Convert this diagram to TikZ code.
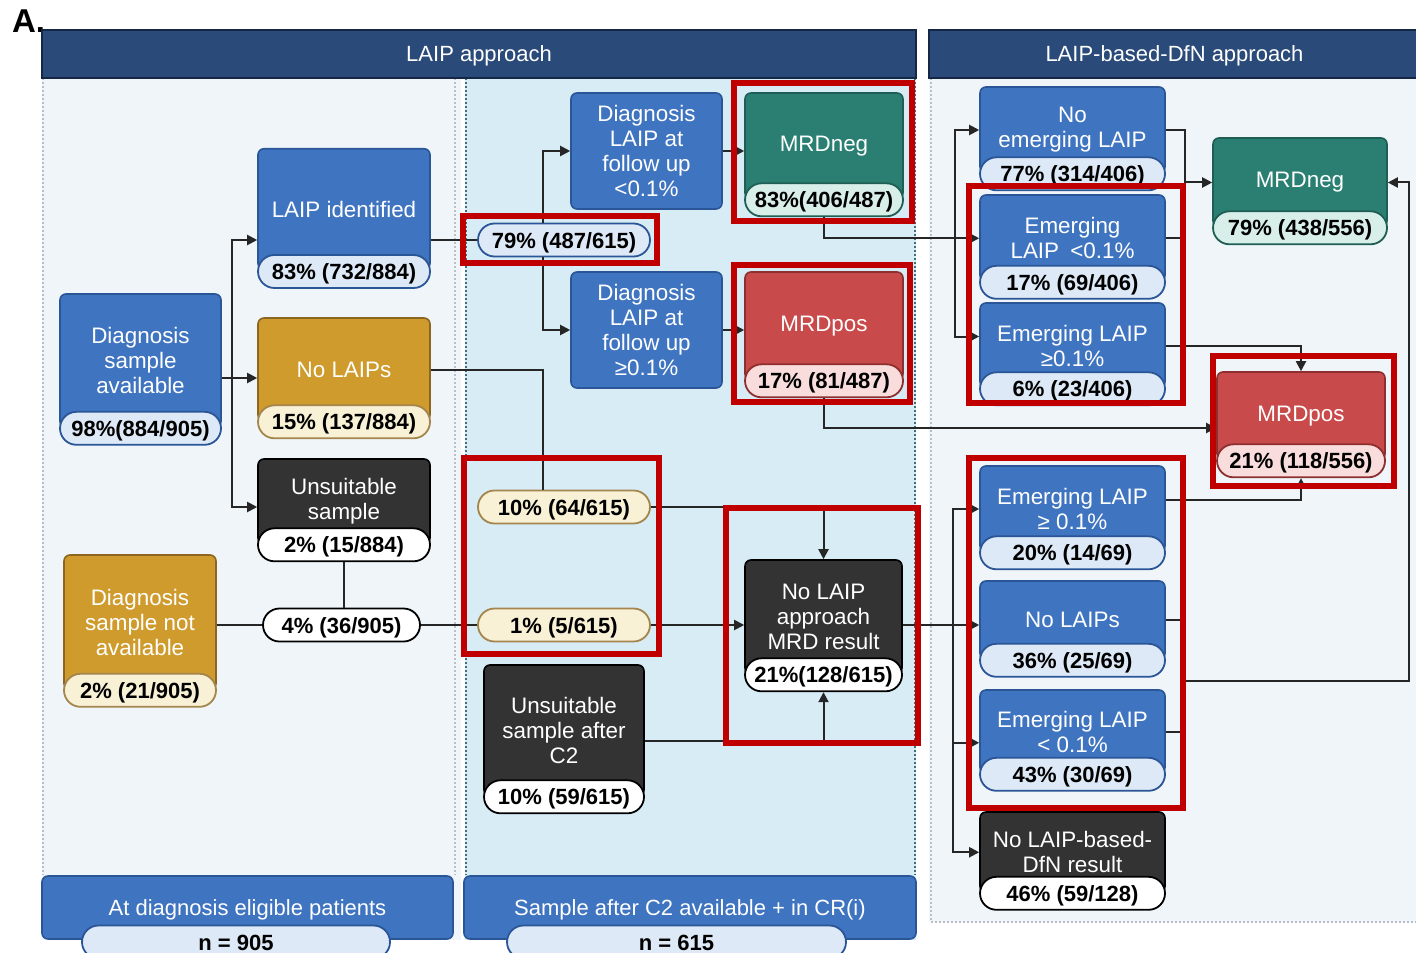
\documentclass[tikz,border=0pt]{standalone}
\usepackage{fontspec}
\setmainfont{Liberation Sans}
\usetikzlibrary{arrows.meta}
\definecolor{boxblue}{HTML}{3F74C0}
\definecolor{boxblueD}{HTML}{2A5597}
\definecolor{pillblue}{HTML}{DDE9F7}
\definecolor{boxgold}{HTML}{CF9B2D}
\definecolor{boxgoldD}{HTML}{8C6620}
\definecolor{pillgold}{HTML}{F8F1D5}
\definecolor{boxdark}{HTML}{333333}
\definecolor{boxteal}{HTML}{2A7F72}
\definecolor{boxtealD}{HTML}{1E5E54}
\definecolor{pillteal}{HTML}{D8EFE9}
\definecolor{boxred}{HTML}{C94A4A}
\definecolor{boxredD}{HTML}{8E2F2F}
\definecolor{pillred}{HTML}{F9DCDC}
\definecolor{headnavy}{HTML}{2A4A79}
\definecolor{headnavyD}{HTML}{142744}
\definecolor{panelL}{HTML}{F0F5FA}
\definecolor{panelM}{HTML}{D7ECF4}
\definecolor{hlred}{HTML}{C00000}
\definecolor{lineC}{HTML}{262626}
\definecolor{dotgray}{HTML}{B8BFC6}
\definecolor{dotteal}{HTML}{3F6F78}

\begin{document}
\begin{tikzpicture}[x=0.5pt, y=-0.5pt,
    box/.style={rectangle, rounded corners=3pt, line width=0.8pt, text=white, align=center, inner sep=0pt, font=\fontsize{11.2}{12.5}\selectfont},
    bluebox/.style={box, fill=boxblue, draw=boxblueD},
    goldbox/.style={box, fill=boxgold, draw=boxgoldD},
    darkbox/.style={box, fill=boxdark, draw=black},
    tealbox/.style={box, fill=boxteal, draw=boxtealD},
    redbox/.style={box, fill=boxred, draw=boxredD},
    pill/.style={rectangle, rounded corners=8.25pt, line width=0.9pt, minimum height=16.5pt, inner sep=0pt, text height=9pt, text depth=1pt, font=\fontsize{11}{13}\selectfont\bfseries},
    bluepill/.style={pill, fill=pillblue, draw=boxblueD},
    goldpill/.style={pill, fill=pillgold, draw=boxgoldD!80},
    whitepill/.style={pill, fill=white, draw=black},
    tealpill/.style={pill, fill=pillteal, draw=boxtealD},
    redpill/.style={pill, fill=pillred, draw=boxredD},
    head/.style={rectangle, fill=headnavy, draw=headnavyD, line width=1pt, text=white, minimum height=24pt, text height=8pt, text depth=0pt, font=\fontsize{11}{13}\selectfont},
    bar/.style={bluebox, minimum height=31.5pt, text height=8pt, text depth=0pt, font=\fontsize{11}{13}\selectfont},
    line/.style={draw=lineC, line width=1pt},
    arr/.style={line, -{Triangle[length=5pt,width=5pt]}},
    hl/.style={draw=hlred, line width=3pt},
    dotline/.style={line width=1pt, dash pattern=on 1pt off 1pt}]
    \useasboundingbox (0,0) rectangle (1416,952);
    \fill[white] (0,0) rectangle (1416,952);

    % Panels
    \fill[panelL] (42,78) rectangle (461,940);
    \fill[panelM] (465,78) rectangle (916,940);
    \fill[panelL] (929,78) rectangle (1416,922);
    \draw[dotline, dotgray] (43,78) -- (43,875);
    \draw[dotline, dotgray] (455,78) -- (455,875);
    \draw[dotline, dotteal] (466,78) -- (466,875);
    \draw[dotline, dotteal] (915,78) -- (915,875);
    \draw[dotline, dotgray] (931,78) -- (931,922) -- (1416,922);

    % Headers
    \node[font=\fontsize{16.5}{16.5}\selectfont\bfseries, anchor=base west] (lbl) at (5,33) {A.};
    \node[head, minimum width=437pt] (hd1) at (479,54) {LAIP approach};
    \node[head, minimum width=245.5pt] (hd2) at (1174.5,54) {LAIP-based-DfN approach};

    % At diagnosis
    \node[bluebox, minimum width=80.5pt, minimum height=66.75pt] (dsa) at (140.5,360.75) {Diagnosis\\sample\\available};
    \node[bluepill, minimum width=80.5pt] (dsap) at (dsa.south) {98\%(884/905)};
    \node[bluebox, minimum width=86pt, minimum height=60.25pt] (lid) at (344,209) {LAIP identified};
    \node[bluepill, minimum width=86pt] (lidp) at (344,271.5) {83\% (732/884)};
    \node[goldbox, minimum width=86pt, minimum height=51.5pt] (nol) at (344,369.5) {No LAIPs};
    \node[goldpill, minimum width=86pt] (nolp) at (nol.south) {15\% (137/884)};
    \node[darkbox, minimum width=86pt, minimum height=42.5pt] (uns) at (344,501.5) {Unsuitable\\sample};
    \node[whitepill, minimum width=86pt] (unsp) at (uns.south) {2\% (15/884)};
    \node[goldbox, minimum width=76pt, minimum height=67.25pt] (dsn) at (140,622.25) {Diagnosis\\sample not\\available};
    \node[goldpill, minimum width=76pt] (dsnp) at (dsn.south) {2\% (21/905)};
    \node[whitepill, minimum width=78.5pt] (p4) at (341.5,625) {4\% (36/905)};

    % After C2
    \node[bluepill, minimum width=86pt] (p79) at (564,240) {79\% (487/615)};
    \node[goldpill, minimum width=86pt] (p10) at (564,507) {10\% (64/615)};
    \node[goldpill, minimum width=86pt] (p1) at (564,625) {1\% (5/615)};
    \node[bluebox, minimum width=75.5pt, minimum height=58pt] (dlo) at (646.5,151) {Diagnosis\\LAIP at\\follow up\\<0.1\%};
    \node[bluebox, minimum width=75.5pt, minimum height=58pt] (dhi) at (646.5,330) {Diagnosis\\LAIP at\\follow up\\≥0.1\%};
    \node[tealbox, minimum width=79pt, minimum height=53pt] (mneg1) at (824,146) {MRDneg};
    \node[tealpill, minimum width=79pt] (mneg1p) at (mneg1.south) {83\%(406/487)};
    \node[redbox, minimum width=79pt, minimum height=54pt] (mpos1) at (824,326) {MRDpos};
    \node[redpill, minimum width=79pt] (mpos1p) at (mpos1.south) {17\% (81/487)};
    \node[darkbox, minimum width=80pt, minimum height=65.5pt] (uc2) at (564,730.5) {Unsuitable\\sample after\\C2};
    \node[whitepill, minimum width=80pt] (uc2p) at (uc2.south) {10\% (59/615)};
    \node[darkbox, minimum width=78.5pt, minimum height=57pt] (nla) at (823.5,617) {No LAIP\\approach\\MRD result};
    \node[whitepill, minimum width=78.5pt] (nlap) at (nla.south) {21\%(128/615)};

    % LAIP-based-DfN
    \node[bluebox, minimum width=92.5pt, minimum height=43pt] (nel) at (1072.5,130) {No\\emerging LAIP};
    \node[bluepill, minimum width=92.5pt] (nelp) at (nel.south) {77\% (314/406)};
    \node[bluebox, minimum width=92.5pt, minimum height=43.25pt] (el1) at (1072.5,238.25) {Emerging\\LAIP\enspace<0.1\%};
    \node[bluepill, minimum width=92.5pt] (el1p) at (el1.south) {17\% (69/406)};
    \node[bluebox, minimum width=92.5pt, minimum height=42.5pt] (eh1) at (1072.5,345.5) {Emerging LAIP\\≥0.1\%};
    \node[bluepill, minimum width=92.5pt] (eh1p) at (eh1.south) {6\% (23/406)};
    \node[tealbox, minimum width=87pt, minimum height=44.5pt] (mneg2) at (1300,182.5) {MRDneg};
    \node[tealpill, minimum width=87pt] (mneg2p) at (mneg2.south) {79\% (438/556)};
    \node[redbox, minimum width=84pt, minimum height=44pt] (mpos2) at (1301,416) {MRDpos};
    \node[redpill, minimum width=84pt] (mpos2p) at (mpos2.south) {21\% (118/556)};
    \node[bluebox, minimum width=92.5pt, minimum height=43pt] (eh2) at (1072.5,509) {Emerging LAIP\\≥ 0.1\%};
    \node[bluepill, minimum width=92.5pt] (eh2p) at (eh2.south) {20\% (14/69)};
    \node[bluebox, minimum width=92.5pt, minimum height=39.25pt] (nl2) at (1072.5,620.25) {No LAIPs};
    \node[bluepill, minimum width=92.5pt] (nl2p) at (nl2.south) {36\% (25/69)};
    \node[bluebox, minimum width=92.5pt, minimum height=41.75pt] (el2) at (1072.5,731.75) {Emerging LAIP\\< 0.1\%};
    \node[bluepill, minimum width=92.5pt] (el2p) at (el2.south) {43\% (30/69)};
    \node[darkbox, minimum width=92.5pt, minimum height=40.25pt] (nlb) at (1072.5,852.25) {No LAIP-based-\\DfN result};
    \node[whitepill, minimum width=92.5pt] (nlbp) at (nlb.south) {46\% (59/128)};

    % Bottom bars
    \node[bar, minimum width=205.5pt] (bb1) at (247.5,907.5) {At diagnosis eligible patients};
    \node[bluepill, minimum width=154pt] (bb1p) at (236,942) {n = 905};
    \node[bar, minimum width=226pt] (bb2) at (690,907.5) {Sample after C2 available + in CR(i)};
    \node[bluepill, minimum width=169.5pt] (bb2p) at (676.5,942) {n = 615};

    % Connectors, LAIP approach
    \coordinate (jA) at (232,378);
    \draw[arr] (jA -| dsa.east) -- (jA -| nol.west);
    \draw[arr] (jA) |- (lid.west |- p79.west);
    \draw[arr] (jA) |- (uns.west |- p10.west);
    \draw[line] (lid.east |- p79.west) -- (p79.west);
    \coordinate (jB) at (543,240);
    \draw[arr] (p79.north -| jB) |- (dlo.west);
    \draw[arr] (p79.south -| jB) |- (dhi.west);
    \draw[arr] (dlo.east) -- (dlo.east -| mneg1.west);
    \draw[arr] (dhi.east) -- (dhi.east -| mpos1.west);
    \draw[line] (nol.east) -| (p10.north -| jB);
    \draw[line] (unsp.south) -- (unsp.south |- p4.north);
    \draw[line] (dsn.east |- p4.west) -- (p4.west);
    \draw[line] (p4.east) -- (p1.west);
    \draw[arr] (p1.east) -- (p1.east -| nla.west);
    \draw[arr] (p10.east) -| (nla.north);
    \coordinate (jC) at (822,741);
    \draw[arr] (uc2.east |- jC) -| (nlap.south);

    % Connectors, LAIP-based-DfN approach
    \coordinate (jD) at (955,236);
    \draw[arr] (mneg1p.south) |- (el1.west);
    \draw[arr] (jD |- el1.west) |- (nel.west);
    \draw[arr] (jD |- el1.west) |- ([yshift=4.5pt]eh1.west);
    \draw[arr] (mpos1p.south) |- ([yshift=-6pt]mpos2.west);
    \coordinate (jF) at (1185,182.5);
    \draw[line] (nel.east) -| (jF |- el1.east) -- (el1.east);
    \draw[arr] (jF) -- (jF -| mneg2.west);
    \draw[arr] (eh1.east) -| (mpos2.north);
    \coordinate (jG) at (953,625);
    \draw[line] (nla.east |- jG) -- (jG);
    \draw[arr] (jG) |- (eh2.west);
    \draw[arr] (jG) -- (jG -| nl2.west);
    \draw[arr] (jG) |- ([yshift=-5.5pt]el2.west);
    \draw[arr] (jG) |- (nlb.west);
    \draw[arr] ([yshift=4.5pt]eh2.east) -| (mpos2p.south);
    \coordinate (jH) at (1185,681);
    \draw[line] (nl2.east) -| (jH) |- (el2.east);
    \draw[arr] (jH) -- ++(224,0) |- (mneg2.east);

    % Highlights
    \draw[hl] (463,216) rectangle (657,263);
    \draw[hl] (734,83) rectangle (912,221);
    \draw[hl] (734,265) rectangle (910,402);
    \draw[hl] (464,458) rectangle (659,654);
    \draw[hl] (726,508) rectangle (918,743);
    \draw[hl] (969,186) rectangle (1183,403);
    \draw[hl] (1213,356) rectangle (1394,486);
    \draw[hl] (969,458) rectangle (1183,808);
\end{tikzpicture}
\end{document}
